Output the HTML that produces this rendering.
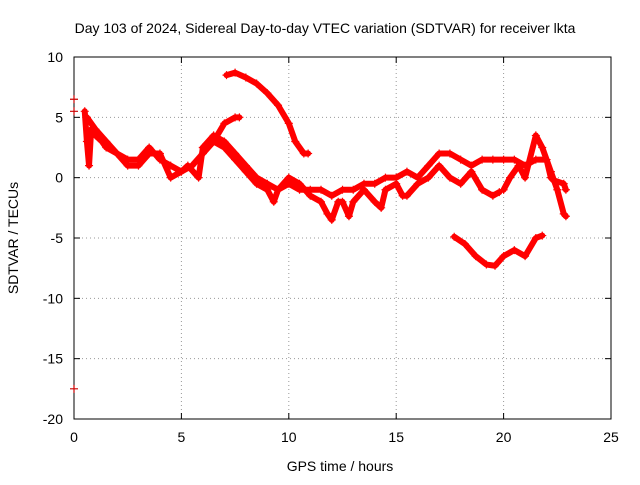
<!DOCTYPE html>
<html><head><meta charset="utf-8"><style>
body{margin:0;background:#fff;font-family:"Liberation Sans",sans-serif}
svg text{font-family:"Liberation Sans",sans-serif;font-size:14px;fill:#000}
</style></head><body>
<svg id="chart" width="640" height="480" xmlns="http://www.w3.org/2000/svg">
<rect width="640" height="480" fill="#fff"/>
<text x="325" y="33" text-anchor="middle">Day 103 of 2024, Sidereal Day-to-day VTEC variation (SDTVAR) for receiver lkta</text>
<g id="grid"></g>
<g id="axes"></g>
<g id="series"></g>
<text x="340" y="471" text-anchor="middle">GPS time / hours</text>
<text transform="translate(18,238) rotate(-90)" text-anchor="middle">SDTVAR / TECUs</text>
</svg>
<script>
const xTicks=[0,5,10,15,20,25];
const yTicks=[10,5,0,-5,-10,-15,-20];
const trackA=[[0.5,5.5],[0.6,3],[0.7,1],[0.8,4],[1,3.5],[1.3,3],[1.5,2.5],[2,2],[2.5,1.5],[3,1.5],[3.5,2.5],[4,1.5],[4.5,1],[5,0.5],[5.5,1],[6,2],[6.5,3],[7,4.5],[7.5,5],[7.7,5]];
const trackB=[[0.6,5],[1,4],[1.5,3],[2,2],[2.5,1],[3,1],[3.5,2],[4,2],[4.5,0],[5,0.5],[5.3,1],[5.8,0],[6,2.5]];
const trackC=[[6,2.5],[6.5,3.5],[7,3],[7.5,2],[8,1],[8.5,0],[9,-0.5],[9.5,-1],[10,-0.5],[10.5,-1],[11,-1],[11.5,-1],[12,-1.5],[12.5,-1],[13,-1],[13.5,-0.5],[14,-0.5],[14.5,0],[15,0],[15.5,0.5],[16,0],[16.5,1],[17,2],[17.5,2],[18,1.5],[18.5,1],[19,1.5],[19.5,1.5],[20,1.5],[20.5,1.5],[21,1],[21.5,1.5],[22,1.5],[22.2,0]];
const trackD=[[6.5,3],[7,2.5],[7.5,1.5],[8,0.5],[8.5,-0.5],[9,-1],[9.3,-2],[9.5,-1],[10,0],[10.5,-0.5],[11,-1.5],[11.5,-2],[11.8,-3],[12,-3.5],[12.3,-2],[12.5,-2],[12.8,-3.2],[13,-2],[13.5,-1],[14,-2],[14.3,-2.5],[14.5,-1],[15,-0.5],[15.3,-1.5],[15.5,-1.5],[16,-0.5],[16.5,0],[17,1],[17.5,0],[18,-0.5],[18.5,0.5],[19,-1],[19.5,-1.5],[19.8,-1.2]];
const trackE=[[7.1,8.5],[7.5,8.7],[8,8.3],[8.5,7.8],[9,7],[9.5,6],[10,4.5],[10.3,3],[10.7,2],[10.9,2]];
const trackF=[[17.7,-4.9],[18.2,-5.5],[18.7,-6.5],[19.2,-7.2],[19.6,-7.3],[20,-6.5],[20.5,-6],[21,-6.5],[21.5,-5],[21.8,-4.8]];
const trackG=[[20,-1],[20.3,0],[20.7,1],[21,0],[21.5,3.5],[21.8,2.5],[22.2,0.5],[22.5,-1],[22.8,-3],[22.9,-3.2]];
const trackH=[[22.3,-0.2],[22.8,-0.5],[22.9,-1]];
const isolated=[[0,6.5],[0,5.5],[0,-17.5]];
const tracks=[trackA,trackB,trackC,trackD,trackE,trackF,trackG,trackH];
const X0=74,X1=611,Y0=419,Y1=57;
const sx=v=>X0+(v-0)/(25-0)*(X1-X0);
const sy=v=>Y0-(v-(-20))/(10-(-20))*(Y0-Y1);
const NS="http://www.w3.org/2000/svg";
function mk(t,a,p){const e=document.createElementNS(NS,t);for(const k in a)e.setAttribute(k,a[k]);p.appendChild(e);return e;}
const grid=document.getElementById('grid'),axes=document.getElementById('axes'),ser=document.getElementById('series');
xTicks.forEach(t=>{const x=sx(t);
 if(t>0&&t<25){const l=mk('line',{x1:x,x2:x,y1:Y1,y2:Y0,stroke:'#999','stroke-dasharray':'1,3','stroke-width':1},grid);
 
 }
 mk('line',{x1:x,x2:x,y1:Y0,y2:Y0-6,stroke:'#000'},axes);mk('line',{x1:x,x2:x,y1:Y1,y2:Y1+6,stroke:'#000'},axes);
 const tx=mk('text',{x:x,y:Y0+23,'text-anchor':'middle'},axes);tx.textContent=t;
 
 });
yTicks.forEach(t=>{const y=sy(t);
 if(t>-20&&t<10){const l=mk('line',{x1:X0,x2:X1,y1:y,y2:y,stroke:'#999','stroke-dasharray':'1,3','stroke-width':1},grid);
 
 }
 mk('line',{x1:X0,x2:X0+6,y1:y,y2:y,stroke:'#000'},axes);mk('line',{x1:X1,x2:X1-6,y1:y,y2:y,stroke:'#000'},axes);
 const tx=mk('text',{x:X0-11,y:y+5,'text-anchor':'end'},axes);tx.textContent=t;
 
 });
mk('rect',{x:X0,y:Y1,width:X1-X0,height:Y0-Y1,fill:'none',stroke:'#000'},axes);
function plus(x,y,s){const d=`M${x-s},${y}H${x+s}M${x},${y-s}V${y+s}`;return d;}
tracks.forEach(tr=>{
 const pts=tr.map(p=>sx(p[0])+','+sy(p[1])).join(' ');
 const pl=mk('polyline',{points:pts,fill:'none',stroke:'#f00','stroke-width':6,'stroke-linejoin':'round','stroke-linecap':'round'},ser);
 
 
 let d='';tr.forEach(p=>{d+=plus(sx(p[0]),sy(p[1]),4);});
 const m=mk('path',{d:d,stroke:'#f00','stroke-width':1.2,fill:'none'},ser);
 
 
});
let d='';isolated.forEach(p=>{d+=plus(sx(p[0]),sy(p[1]),4);});
const iso=mk('path',{d:d,stroke:'#c00','stroke-width':1.2,fill:'none'},ser);


</script>
</body></html>
